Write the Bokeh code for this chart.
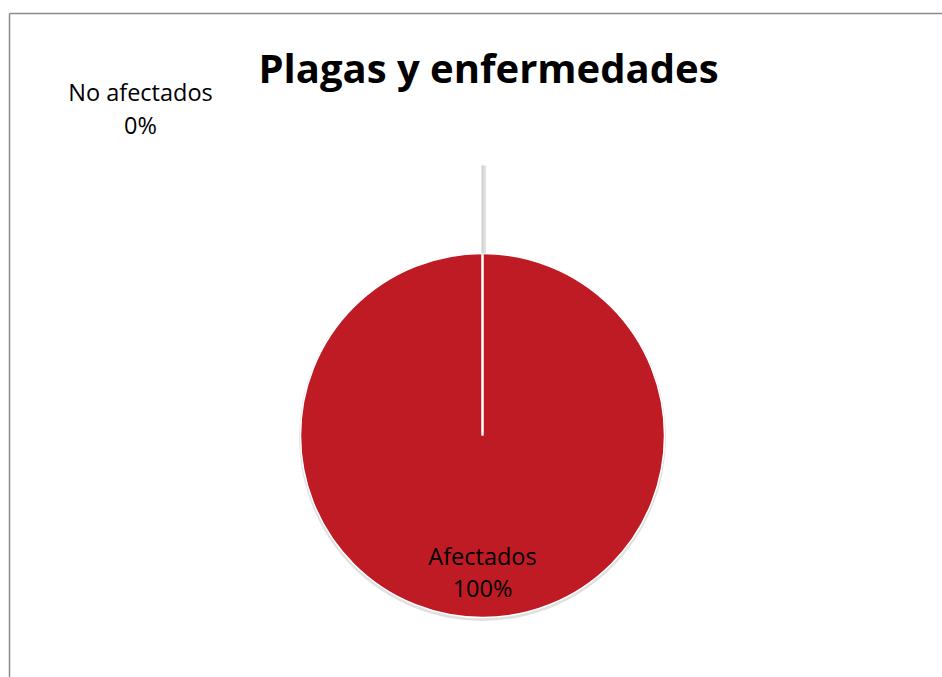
import math
from bokeh.plotting import figure
from bokeh.models import Range1d, ColumnDataSource
from bokeh.core.properties import value
from bokeh.embed import file_html
from bokeh.resources import INLINE

# ---- data ----
title = "Plagas y enfermedades"
categories = ["Afectados", "No afectados"]
values = [100, 0]
colors = ["#BE1B24", "#4F81BD"]

W, H = 942, 677
p = figure(width=W, height=H, output_backend="svg", toolbar_location=None,
           x_range=Range1d(0, W), y_range=Range1d(0, H), min_border=0)
p.axis.visible = False
p.grid.visible = False
p.outline_line_color = None
p.background_fill_color = "white"
p.border_fill_color = "white"

def px(x):
    return x
def py(y):
    return H - y

# chart frame (only top and left visible in the window)
p.segment(x0=[px(9), px(9)], y0=[py(13), py(13)], x1=[px(942), px(9)], y1=[py(13), py(677)],
          line_color="#8C8C8C", line_width=1.5)

cx, cy, r = px(482), py(435), 182

total = sum(values)
pcts = [round(v * 100 / total) for v in values]
starts, ends = [], []
acc = 0.0
for v in values:
    a0 = math.pi / 2 - 2 * math.pi * acc / total
    acc += v
    a1 = math.pi / 2 - 2 * math.pi * acc / total
    starts.append(a1)
    ends.append(a0)

# shadow
p.circle(x=[cx], y=[cy - 2], radius=r + 1.5, radius_units="screen",
         fill_color="black", fill_alpha=0.12, line_color=None)

for i, v in enumerate(values):
    if v == total:
        p.circle(x=[cx], y=[cy], radius=r, radius_units="screen",
                 fill_color=colors[i], line_color="white", line_width=1.5)
    elif v > 0:
        p.wedge(x=[cx], y=[cy], radius=r, radius_units="screen",
                start_angle=starts[i], end_angle=ends[i],
                fill_color=colors[i], line_color="white", line_width=1.5)

# slice boundary line(s) from centre (white)
for i, v in enumerate(values):
    a = ends[i]
    p.segment(x0=[cx], y0=[cy], x1=[cx + r * math.cos(a)], y1=[cy + r * math.sin(a)],
              line_color="white", line_width=2)

# leader line for zero slice
p.segment(x0=[cx + 1.5], y0=[py(165)], x1=[cx + 1.5], y1=[py(253)],
          line_color="#000000", line_alpha=0.12, line_width=4)
p.segment(x0=[cx], y0=[py(165)], x1=[cx], y1=[py(253)],
          line_color="#D0D0D0", line_width=2)

# labels
lab_pos = {"Afectados": (482, 555, 587), "No afectados": (140, 91, 124)}
for c, pc in zip(categories, pcts):
    lx, ly1, ly2 = lab_pos[c]
    p.text(x=[px(lx)], y=[py(ly1)], text=[c], text_font=value("Open Sans"),
           text_font_size="23.5px", text_color="black", text_align="center",
           text_baseline="middle")
    p.text(x=[px(lx)], y=[py(ly2)], text=[f"{pc}%"], text_font=value("Open Sans"),
           text_font_size="23.5px", text_color="black", text_align="center",
           text_baseline="middle")

p.text(x=[px(488)], y=[py(67)], text=[title], text_font=value("Open Sans"),
       text_font_style="bold", text_font_size="40px", text_color="black",
       text_align="center", text_baseline="middle")

open("out.html", "w").write(file_html(p, INLINE))
